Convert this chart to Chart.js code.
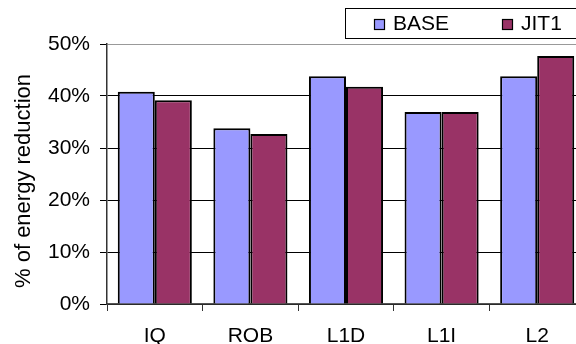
<!DOCTYPE html>
<html>
<head>
<meta charset="utf-8">
<script src="https://cdn.jsdelivr.net/npm/chart.js@4.4.1/dist/chart.umd.min.js"></script>
<style>
  html, body { margin: 0; padding: 0; background: #fff; overflow: hidden; }
  #wrap { width: 600px; height: 344px; }
</style>
</head>
<body>
<div id="wrap"><canvas id="c" width="600" height="344"></canvas></div>
<script>
// Energy reduction per structure, in percent
const categories = ['IQ', 'ROB', 'L1D', 'L1I', 'L2'];
const baseValues = [40.8, 33.8, 43.8, 36.9, 43.8];
const jit1Values = [39.2, 32.7, 41.8, 36.9, 47.7];
const seriesNames = ['BASE', 'JIT1'];
const seriesColors = ['#9999FF', '#993366'];
const yTicks = [0, 10, 20, 30, 40, 50];
const yTitle = '% of energy reduction';

const FONT = "'Liberation Sans', Arial, sans-serif";

// Boxed legend in the top-right corner
const boxLegend = {
  id: 'boxLegend',
  afterDraw(chart) {
    const ctx = chart.ctx;
    ctx.save();
    ctx.strokeStyle = '#000';
    ctx.lineWidth = 1;
    ctx.strokeRect(345.5, 8.5, 300, 30);
    const items = [
      { sx: 374, tx: 393 },
      { sx: 502, tx: 521 }
    ];
    ctx.font = '21px ' + FONT;
    ctx.textBaseline = 'alphabetic';
    ctx.textAlign = 'left';
    chart.data.datasets.forEach((ds, i) => {
      const it = items[i];
      ctx.fillStyle = ds.backgroundColor;
      ctx.fillRect(it.sx, 19, 11, 11);
      ctx.strokeStyle = '#000';
      ctx.lineWidth = 1.2;
      ctx.strokeRect(it.sx + 0.5, 19.5, 10, 10);
      ctx.fillStyle = '#000';
      ctx.fillText(ds.label, it.tx, 29.5);
    });
    ctx.restore();
  }
};

// Rotated value-axis caption, sitting a little below the axis midpoint
const axisCaption = {
  id: 'axisCaption',
  afterDraw(chart) {
    const ctx = chart.ctx;
    ctx.save();
    ctx.translate(24, 181);
    ctx.rotate(-Math.PI / 2);
    ctx.font = '22px ' + FONT;
    ctx.fillStyle = '#000';
    ctx.textAlign = 'center';
    ctx.textBaseline = 'middle';
    ctx.fillText(yTitle, 0, 0);
    ctx.restore();
  }
};

new Chart(document.getElementById('c'), {
  type: 'bar',
  data: {
    labels: categories,
    datasets: [
      { label: seriesNames[0], data: baseValues, backgroundColor: seriesColors[0],
        borderColor: '#000', borderWidth: 2 },
      { label: seriesNames[1], data: jit1Values, backgroundColor: seriesColors[1],
        borderColor: '#000', borderWidth: 2 }
    ]
  },
  options: {
    responsive: false,
    animation: false,
    layout: { padding: { top: 44, right: 15, left: 0, bottom: 0 } },
    datasets: { bar: { categoryPercentage: 0.775, barPercentage: 1.0 } },
    plugins: { legend: { display: false }, tooltip: { enabled: false } },
    scales: {
      x: {
        offset: true,
        grid: {
          offset: true,
          drawOnChartArea: false,
          drawTicks: true,
          tickLength: 7,
          color: '#333',
          lineWidth: 1
        },
        border: { color: '#555', width: 1.5 },
        ticks: { color: '#000', font: { family: FONT, size: 21 }, padding: 13 },
        afterFit(s) { s.height = 40; }
      },
      y: {
        min: 0,
        max: 50,
        afterBuildTicks(s) { s.ticks = yTicks.map(v => ({ value: v })); },
        grid: {
          color: c => (c.tick && c.tick.value === 50) ? '#999' : '#000',
          tickColor: '#000',
          lineWidth: 1,
          tickLength: 7
        },
        border: { color: '#333', width: 1.5 },
        ticks: {
          color: '#000',
          font: { family: FONT, size: 21 },
          padding: 10,
          callback: v => v + '%'
        },
        afterFit(s) { s.width = 107; }
      }
    }
  },
  plugins: [boxLegend, axisCaption]
});
</script>
</body>
</html>
